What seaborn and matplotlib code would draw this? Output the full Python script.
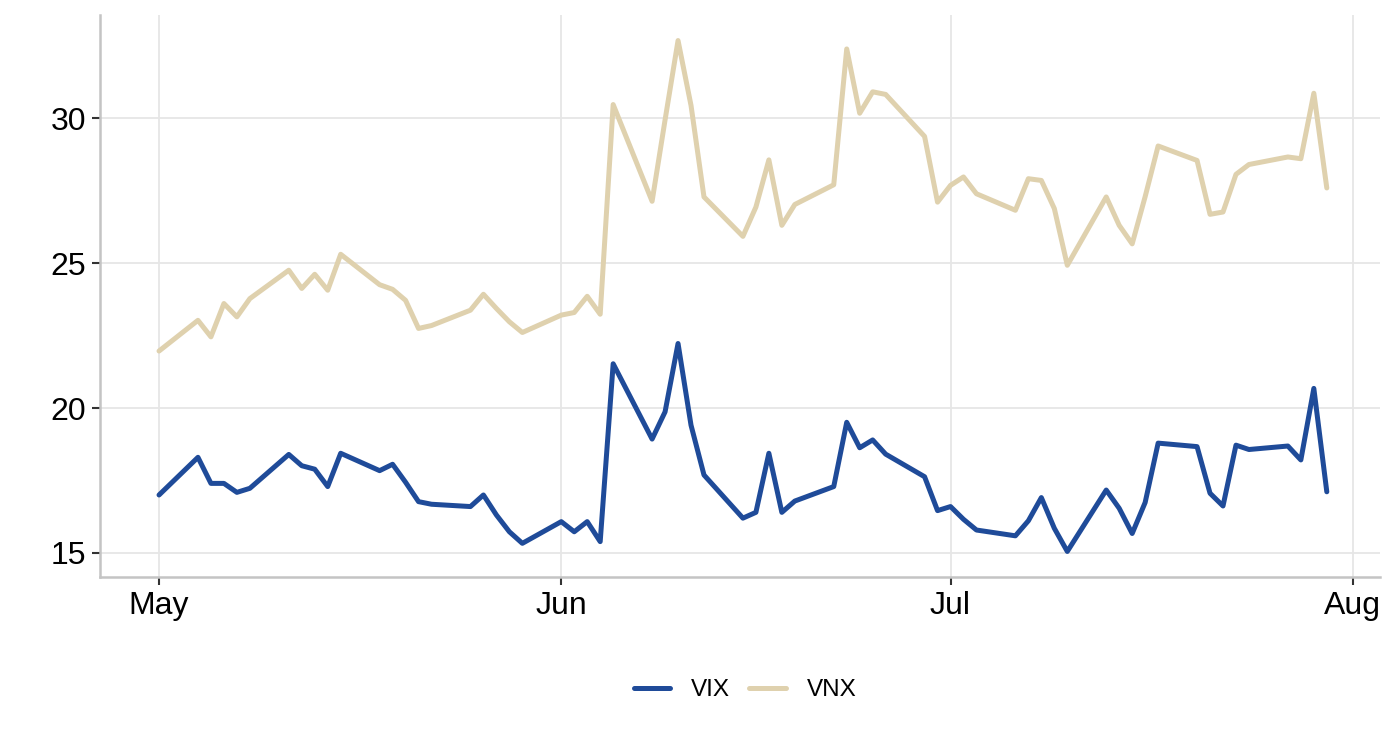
import matplotlib
matplotlib.use("Agg")
import matplotlib.pyplot as plt
import seaborn as sns
import pandas as pd

dates = [
    "2020-05-01", "2020-05-04", "2020-05-05", "2020-05-06", "2020-05-07", "2020-05-08",
    "2020-05-11", "2020-05-12", "2020-05-13", "2020-05-14", "2020-05-15",
    "2020-05-18", "2020-05-19", "2020-05-20", "2020-05-21", "2020-05-22",
    "2020-05-25", "2020-05-26", "2020-05-27", "2020-05-28", "2020-05-29",
    "2020-06-01", "2020-06-02", "2020-06-03", "2020-06-04", "2020-06-05",
    "2020-06-08", "2020-06-09", "2020-06-10", "2020-06-11", "2020-06-12",
    "2020-06-15", "2020-06-16", "2020-06-17", "2020-06-18", "2020-06-19",
    "2020-06-22", "2020-06-23", "2020-06-24", "2020-06-25", "2020-06-26",
    "2020-06-29", "2020-06-30",
    "2020-07-01", "2020-07-02", "2020-07-03",
    "2020-07-06", "2020-07-07", "2020-07-08", "2020-07-09", "2020-07-10",
    "2020-07-13", "2020-07-14", "2020-07-15", "2020-07-16", "2020-07-17",
    "2020-07-20", "2020-07-21", "2020-07-22", "2020-07-23", "2020-07-24",
    "2020-07-27", "2020-07-28", "2020-07-29", "2020-07-30",
]

vix = [
    17.00, 18.30, 17.40, 17.40, 17.09, 17.23,
    18.40, 18.01, 17.89, 17.29, 18.44,
    17.84, 18.06, 17.44, 16.77, 16.68,
    16.60, 17.00, 16.31, 15.73, 15.33,
    16.08, 15.73, 16.08, 15.39, 21.53,
    18.93, 19.87, 22.23, 19.41, 17.69,
    16.20, 16.40, 18.44, 16.40, 16.79,
    17.29, 19.51, 18.63, 18.90, 18.41,
    17.63, 16.46,
    16.60, 16.16, 15.79,
    15.59, 16.11, 16.91, 15.85, 15.05,
    17.17, 16.54, 15.67, 16.74, 18.79,
    18.67, 17.06, 16.62, 18.72, 18.57,
    18.69, 18.21, 20.68, 17.11,
]

vnx = [
    21.97, 23.03, 22.46, 23.61, 23.15, 23.78,
    24.76, 24.13, 24.62, 24.07, 25.31,
    24.26, 24.10, 23.72, 22.75, 22.85,
    23.38, 23.93, 23.44, 22.98, 22.61,
    23.21, 23.30, 23.86, 23.24, 30.48,
    27.14, 29.95, 32.69, 30.45, 27.29,
    25.93, 26.94, 28.57, 26.31, 27.03,
    27.71, 32.40, 30.18, 30.92, 30.83,
    29.38, 27.11,
    27.69, 27.98, 27.40,
    26.83, 27.92, 27.86, 26.89, 24.93,
    27.29, 26.31, 25.67, 27.30, 29.05,
    28.55, 26.69, 26.77, 28.07, 28.41,
    28.67, 28.61, 30.87, 27.60,
]

series_names = ["VIX", "VNX"]
series_colors = ["#1f4b99", "#dfd1ae"]
y_ticks = [15, 20, 25, 30]
x_ticks = ["2020-05-01", "2020-06-01", "2020-07-01", "2020-08-01"]
x_labels = ["May", "Jun", "Jul", "Aug"]

df = pd.DataFrame({
    "date": pd.to_datetime(dates * 2),
    "value": vix + vnx,
    "series": [series_names[0]] * len(vix) + [series_names[1]] * len(vnx),
})

sns.set_theme(style="white")
plt.rcParams["font.family"] = ["Liberation Sans", "DejaVu Sans"]
plt.rcParams["text.color"] = "black"

fig = plt.figure(figsize=(14, 7.4), dpi=100)
ax = fig.add_axes([100 / 1400, 1 - 577 / 740, 1280 / 1400, 562 / 740])

sns.lineplot(data=df, x="date", y="value", hue="series",
             palette=dict(zip(series_names, series_colors)),
             linewidth=3.6, ax=ax, legend=True)

ax.margins(y=0.05)
d0 = df["date"].min()
ax.set_xlim(d0 - pd.Timedelta(days=4.55), d0 + pd.Timedelta(days=94.1))
ax.set_xticks(pd.to_datetime(x_ticks))
ax.set_xticklabels(x_labels)
ax.set_yticks(y_ticks)
ax.set_xlabel("")
ax.set_ylabel("")

ax.grid(True, color="#e6e6e6", linewidth=1.3)
ax.set_axisbelow(True)
for s in ["top", "right"]:
    ax.spines[s].set_visible(False)
for s in ["left", "bottom"]:
    ax.spines[s].set_color("#c4c4c4")
    ax.spines[s].set_linewidth(1.8)

ax.tick_params(axis="both", which="major", length=6, width=1.5, color="#333333",
               labelsize=23, labelcolor="#000000", pad=4, direction="out",
               bottom=True, left=True)

handles, labels = ax.get_legend_handles_labels()
leg = ax.legend(handles, labels, loc="center", bbox_to_anchor=(745 / 1400, 1 - 690 / 740),
                bbox_transform=fig.transFigure, ncol=2, frameon=False,
                fontsize=17.5, handlelength=1.5, handletextpad=0.85, columnspacing=0.8)
for t in leg.get_texts():
    t.set_color("black")
for h in leg.get_lines():
    h.set_linewidth(3.6)

fig.savefig("out.png", dpi=100)
